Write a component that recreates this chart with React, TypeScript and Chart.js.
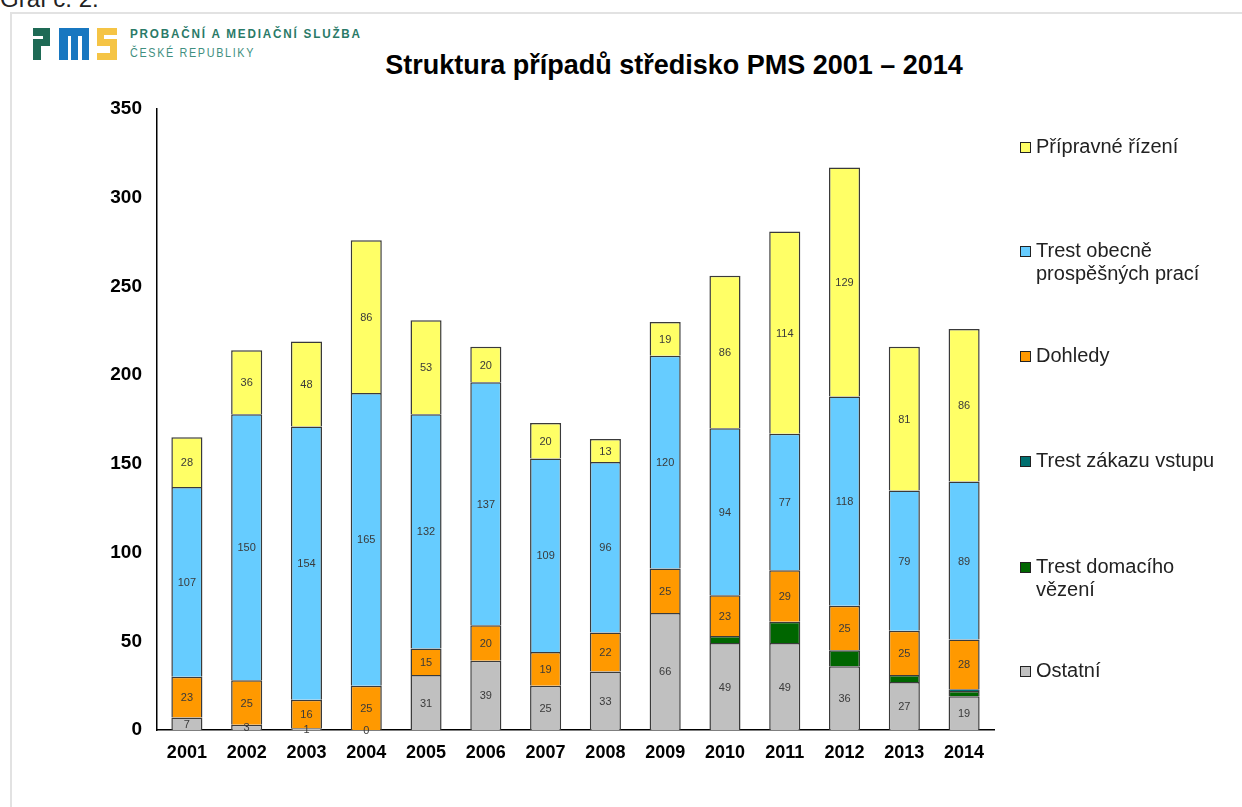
import React, { useEffect, useRef } from 'react';
import { Chart, registerables } from 'chart.js';

Chart.register(...registerables);

const years = ['2001', '2002', '2003', '2004', '2005', '2006', '2007', '2008', '2009', '2010', '2011', '2012', '2013', '2014'];

const ostatni = [7, 3, 1, 0, 31, 39, 25, 33, 66, 49, 49, 36, 27, 19];
const domaci = [null, null, null, null, null, null, null, null, null, 4, 12, 9, 4, 3];
const zakaz = [null, null, null, null, null, null, null, null, null, null, null, null, null, 1];
const dohledy = [23, 25, 16, 25, 15, 20, 19, 22, 25, 23, 29, 25, 25, 28];
const topp = [107, 150, 154, 165, 132, 137, 109, 96, 120, 94, 77, 118, 79, 89];
const pripravne = [28, 36, 48, 86, 53, 20, 20, 13, 19, 86, 114, 129, 81, 86];

const yMin = 0;
const yMax = 350;
const yStep = 50;

const chartTitle = 'Struktura případů středisko PMS 2001 – 2014';

// stacking order: bottom -> top
const seriesNames = ['Ostatní', 'Trest domacího vězení', 'Trest zákazu vstupu', 'Dohledy', 'Trest obecně prospěšných prací', 'Přípravné řízení'];
const legendLines = [['Ostatní'], ['Trest domacího', 'vězení'], ['Trest zákazu vstupu'], ['Dohledy'], ['Trest obecně', 'prospěšných prací'], ['Přípravné řízení']];
const seriesData = [ostatni, domaci, zakaz, dohledy, topp, pripravne];
const seriesColors = ['#C0C0C0', '#006600', '#007070', '#FF9900', '#66CCFF', '#FFFF66'];
const seriesShowValues = [true, false, false, true, true, true];
// legend vertical centre (first line) for each series, in page px
const legendTops = [671, 567, 461, 356, 251, 147];

const FONT = '"Liberation Sans", Arial, sans-serif';

const valueLabels = {
  id: 'valueLabels',
  afterDatasetsDraw(chart: any) {
    const ctx = chart.ctx;
    chart.data.datasets.forEach((ds: any, i: number) => {
      if (!ds.showValues) return;
      const meta = chart.getDatasetMeta(i);
      meta.data.forEach((bar: any, j: number) => {
        const v = ds.data[j];
        if (v === null || v === undefined) return;
        const p = bar.getProps(['x', 'y', 'base'], true);
        ctx.save();
        ctx.font = `11px ${FONT}`;
        ctx.fillStyle = '#3a3a3a';
        ctx.textAlign = 'center';
        ctx.textBaseline = 'middle';
        ctx.fillText(String(v), p.x, (p.y + p.base) / 2 + 1);
        ctx.restore();
      });
    });
  },
};

function Logo() {
  const P = '#1E6A55';
  const M = '#1877C0';
  const S = '#F5C445';
  return (
    <svg width={120} height={40} style={{ position: 'absolute', left: 0, top: 22 }}>
      {/* P */}
      <rect x={33} y={6} width={17} height={8} fill={P} />
      <rect x={43} y={6} width={7} height={18} fill={P} />
      <rect x={33} y={17} width={17} height={7} fill={P} />
      <rect x={33} y={17} width={8} height={21} fill={P} />
      {/* M */}
      <rect x={59} y={6} width={30} height={8} fill={M} />
      <rect x={59} y={6} width={9} height={32} fill={M} />
      <rect x={71} y={6} width={7} height={32} fill={M} />
      <rect x={82} y={6} width={7} height={32} fill={M} />
      {/* S */}
      <rect x={97} y={6} width={20} height={7} fill={S} />
      <rect x={97} y={6} width={7} height={18} fill={S} />
      <rect x={97} y={17} width={20} height={7} fill={S} />
      <rect x={110} y={17} width={7} height={21} fill={S} />
      <rect x={97} y={31} width={20} height={7} fill={S} />
    </svg>
  );
}

export default function App() {
  const canvasRef = useRef<HTMLCanvasElement | null>(null);

  useEffect(() => {
    if (!canvasRef.current) return;
    const datasets = seriesNames.map((name, i) => ({
      label: name,
      data: seriesData[i],
      backgroundColor: seriesColors[i],
      borderColor: '#3a3a3a',
      borderWidth: 1.5,
      categoryPercentage: 1,
      barPercentage: 0.52,
      showValues: seriesShowValues[i],
    }));
    const chart = new Chart(canvasRef.current, {
      type: 'bar',
      data: { labels: years, datasets: datasets as any },
      options: {
        animation: false,
        responsive: false,
        maintainAspectRatio: false,
        layout: { padding: { left: 0, right: 248, top: 109, bottom: 0 } },
        plugins: { legend: { display: false }, tooltip: { enabled: false }, title: { display: false } },
        scales: {
          x: {
            stacked: true,
            grid: { display: false, drawTicks: false },
            border: { display: true, color: '#000', width: 1.5 },
            ticks: { color: '#000', font: { family: FONT, size: 18, weight: 'bold' }, padding: 12 },
            afterFit: (s: any) => { s.height = 77; },
          },
          y: {
            stacked: true,
            min: yMin,
            max: yMax,
            grid: { display: false, drawTicks: false },
            border: { display: true, color: '#000', width: 1.5 },
            ticks: { stepSize: yStep, color: '#000', font: { family: FONT, size: 19, weight: 'bold' }, padding: 15 },
            afterFit: (s: any) => { s.width = 157; },
          },
        },
      },
      plugins: [valueLabels],
    });
    return () => chart.destroy();
  }, []);

  return (
    <div style={{ position: 'absolute', left: 0, top: 0, width: 1242, height: 807, overflow: 'hidden', background: '#fff', fontFamily: FONT }}>
      <div style={{ position: 'absolute', left: 0, top: -15, fontSize: 24, lineHeight: '28px', color: '#222', whiteSpace: 'nowrap' }}>Graf č. 2:</div>
      <div style={{ position: 'absolute', left: 10, top: 12, width: 1300, height: 900, borderLeft: '2px solid #e2e2e2', borderTop: '2px solid #e2e2e2', background: '#fff' }} />
      <Logo />
      <div style={{ position: 'absolute', left: 130, top: 26, fontSize: 13, fontWeight: 'bold', letterSpacing: 2, color: '#2A7A68', whiteSpace: 'nowrap', transform: 'scaleX(0.9)', transformOrigin: '0 0' }}>PROBAČNÍ A MEDIAČNÍ SLUŽBA</div>
      <div style={{ position: 'absolute', left: 130, top: 45, fontSize: 13, letterSpacing: 2, color: '#3F8F80', whiteSpace: 'nowrap', transform: 'scaleX(0.83)', transformOrigin: '0 0' }}>ČESKÉ REPUBLIKY</div>
      <div style={{ position: 'absolute', left: 274, width: 800, top: 50, textAlign: 'center', fontSize: 27, fontWeight: 'bold', color: '#000', whiteSpace: 'nowrap' }}>{chartTitle}</div>
      <canvas ref={canvasRef} width={1242} height={807} style={{ position: 'absolute', left: 0, top: 0, width: 1242, height: 807 }} />
      {seriesNames.map((name, i) => (
        <div key={name} style={{ position: 'absolute', left: 1020, top: legendTops[i] - 12 }}>
          <div style={{ position: 'absolute', left: 0, top: 7, width: 9, height: 9, background: seriesColors[i], border: '1px solid #222' }} />
          <div style={{ position: 'absolute', left: 16, top: 0, fontSize: 20, lineHeight: '23px', color: '#222', whiteSpace: 'nowrap' }}>
            {legendLines[i].map((l) => (<div key={l}>{l}</div>))}
          </div>
        </div>
      ))}
    </div>
  );
}
